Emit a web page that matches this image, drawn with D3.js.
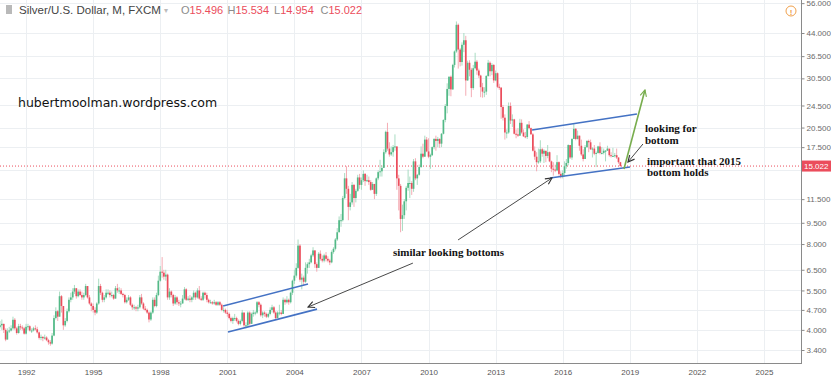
<!DOCTYPE html>
<html>
<head>
<meta charset="utf-8">
<script src="https://cdn.jsdelivr.net/npm/d3@7"></script>
<style>
  html, body { margin: 0; padding: 0; background: #fff; }
  svg { display: block; }
</style>
</head>
<body>
<svg id="chart"></svg>
<script>
// Silver/USD monthly candles, Nov 1990 .. Aug 2018 (open = previous close)
const firstMonth = [1990, 10];
const firstOpen = 4.10;

const closes = [
  [4.15, 4.20],
  [4.00, 3.70, 3.95, 3.98, 4.05, 4.34, 4.05, 3.90, 4.12, 4.08, 4.05, 3.88],
  [4.10, 4.12, 3.98, 3.98, 4.05, 4.02, 3.92, 3.75, 3.78, 3.74, 3.76, 3.68],
  [3.62, 3.58, 3.82, 4.40, 4.65, 4.45, 5.25, 4.85, 4.15, 4.30, 4.65, 5.10],
  [5.20, 5.45, 5.60, 5.25, 5.45, 5.30, 5.20, 5.30, 5.70, 5.20, 4.95, 4.85],
  [4.70, 4.60, 4.95, 5.70, 5.40, 5.10, 5.20, 5.40, 5.40, 5.30, 5.30, 5.15],
  [5.60, 5.50, 5.50, 5.35, 5.30, 5.00, 5.10, 5.20, 4.90, 4.80, 4.80, 4.75],
  [4.80, 5.20, 4.95, 4.75, 4.70, 4.60, 4.35, 4.60, 5.10, 4.85, 5.30, 5.95],
  [6.40, 6.35, 6.15, 6.25, 5.20, 5.45, 5.30, 4.95, 5.20, 5.00, 4.95, 4.95],
  [5.15, 5.55, 5.10, 5.15, 5.10, 5.20, 5.40, 5.20, 5.50, 5.15, 5.10, 5.40],
  [5.30, 5.10, 5.00, 5.00, 4.95, 5.00, 4.90, 5.00, 4.90, 4.70, 4.70, 4.60],
  [4.55, 4.40, 4.30, 4.40, 4.40, 4.30, 4.20, 4.30, 4.60, 4.15, 4.15, 4.60],
  [4.20, 4.55, 4.60, 4.60, 5.00, 4.90, 4.50, 4.60, 4.55, 4.45, 4.55, 4.70],
  [4.80, 4.60, 4.40, 4.60, 4.60, 4.55, 5.10, 5.00, 5.10, 5.00, 5.40, 5.95],
  [6.20, 6.60, 7.90, 6.00, 6.10, 5.90, 6.60, 6.80, 6.90, 7.30, 7.60, 6.80],
  [6.60, 7.40, 7.10, 7.00, 7.30, 7.10, 7.00, 6.90, 7.50, 7.70, 8.30, 8.80],
  [9.70, 9.70, 11.60, 13.60, 12.50, 10.80, 11.20, 12.90, 11.60, 12.30, 13.70, 12.90],
  [13.40, 14.10, 13.30, 13.40, 13.20, 12.40, 13.00, 12.00, 13.60, 14.30, 14.40, 14.80],
  [16.80, 19.80, 17.30, 16.50, 16.80, 17.50, 17.60, 13.60, 12.80, 9.80, 10.10, 11.30],
  [12.60, 13.10, 13.10, 12.50, 15.60, 13.60, 14.00, 14.90, 16.60, 16.20, 18.60, 16.90],
  [16.20, 16.40, 17.50, 18.70, 18.40, 18.70, 18.00, 19.50, 21.80, 24.40, 28.00, 30.90],
  [27.90, 34.00, 37.90, 47.00, 38.50, 34.80, 40.00, 41.50, 30.00, 34.60, 32.70, 28.20],
  [33.10, 34.90, 32.50, 31.20, 28.40, 27.40, 27.40, 31.10, 34.60, 32.30, 34.00, 30.00],
  [31.80, 28.50, 28.30, 24.20, 22.20, 19.70, 19.70, 24.40, 21.70, 21.90, 19.50, 19.40],
  [19.20, 21.30, 19.70, 19.10, 19.00, 21.00, 20.40, 19.40, 17.00, 16.20, 15.50, 15.60],
  [17.20, 16.60, 17.00, 16.30, 16.80, 15.60, 14.70, 14.60, 14.50, 15.50, 14.10, 13.80],
  [14.20, 15.00, 15.40, 17.80, 16.10, 18.70, 20.30, 18.70, 19.20, 17.70, 16.50, 15.90],
  [17.50, 18.40, 18.20, 17.20, 17.30, 16.60, 16.70, 17.60, 16.70, 16.70, 17.00, 17.00],
  [17.30, 16.40, 16.30, 16.30, 16.40, 16.10, 15.496, 15.022]
].flat();

const highs = [
  [4.30, 4.35],
  [4.20, 4.05, 4.05, 4.10, 4.15, 4.45, 4.40, 4.10, 4.20, 4.20, 4.15, 4.10],
  [4.20, 4.20, 4.15, 4.05, 4.10, 4.15, 4.10, 3.95, 3.85, 3.80, 3.85, 3.80],
  [3.72, 3.68, 3.90, 4.50, 4.80, 4.70, 5.45, 5.30, 4.85, 4.40, 4.75, 5.20],
  [5.40, 5.60, 5.75, 5.60, 5.55, 5.55, 5.45, 5.40, 5.80, 5.70, 5.30, 5.00],
  [4.95, 4.80, 5.00, 6.05, 5.80, 5.45, 5.30, 5.55, 5.55, 5.50, 5.45, 5.35],
  [5.70, 5.80, 5.65, 5.60, 5.40, 5.35, 5.20, 5.30, 5.25, 4.95, 4.90, 4.85],
  [4.90, 5.30, 5.35, 5.00, 4.85, 4.75, 4.65, 4.65, 5.20, 5.20, 5.40, 6.20],
  [6.70, 7.20, 6.50, 6.50, 6.30, 5.60, 5.50, 5.35, 5.30, 5.25, 5.10, 5.05],
  [5.30, 5.65, 5.60, 5.25, 5.30, 5.25, 5.50, 5.45, 5.60, 5.70, 5.25, 5.45],
  [5.45, 5.40, 5.15, 5.10, 5.05, 5.10, 5.05, 5.05, 5.05, 4.95, 4.80, 4.75],
  [4.70, 4.60, 4.45, 4.45, 4.55, 4.45, 4.35, 4.35, 4.70, 4.60, 4.25, 4.65],
  [4.65, 4.60, 4.70, 4.65, 5.05, 5.05, 4.95, 4.65, 4.65, 4.60, 4.60, 4.80],
  [4.90, 4.85, 4.65, 4.65, 4.90, 4.70, 5.20, 5.15, 5.25, 5.15, 5.45, 6.00],
  [6.50, 6.85, 8.30, 8.00, 6.30, 6.20, 6.90, 6.90, 7.10, 7.40, 7.80, 7.60],
  [6.90, 7.50, 7.60, 7.30, 7.40, 7.50, 7.25, 7.10, 7.60, 7.80, 8.40, 9.10],
  [10.00, 10.20, 11.80, 14.20, 15.00, 12.80, 12.00, 13.20, 13.00, 12.50, 14.00, 14.10],
  [13.70, 14.50, 14.20, 14.00, 13.80, 13.40, 13.20, 13.00, 13.70, 14.50, 15.80, 15.10],
  [17.20, 20.00, 21.30, 18.20, 17.60, 17.80, 19.40, 17.60, 14.00, 13.00, 11.00, 11.50],
  [12.80, 14.60, 13.80, 13.30, 15.90, 16.00, 14.10, 15.20, 17.60, 18.00, 19.20, 19.00],
  [18.80, 16.60, 17.60, 18.80, 19.20, 19.00, 18.80, 19.60, 21.90, 24.80, 29.30, 31.00],
  [31.20, 34.30, 38.20, 48.30, 47.50, 39.00, 40.80, 44.00, 43.00, 35.20, 35.30, 33.20],
  [34.00, 37.50, 35.40, 33.00, 31.40, 29.40, 28.40, 31.30, 35.40, 35.00, 34.50, 34.20],
  [32.50, 32.00, 29.20, 28.40, 24.60, 22.80, 20.20, 25.10, 25.10, 22.80, 22.00, 20.20],
  [20.40, 22.00, 21.90, 20.20, 19.80, 21.10, 21.60, 20.50, 19.60, 17.60, 16.80, 17.30],
  [18.50, 17.40, 17.20, 16.90, 17.80, 16.90, 15.70, 15.50, 15.20, 16.40, 15.60, 14.40],
  [14.50, 15.60, 15.90, 17.90, 17.70, 18.80, 21.10, 20.40, 20.00, 19.20, 18.60, 17.20],
  [17.80, 18.50, 18.60, 18.60, 17.50, 17.80, 16.90, 17.70, 18.20, 17.50, 17.30, 17.10],
  [17.70, 17.20, 16.80, 17.40, 16.70, 17.30, 16.10, 15.534]
].flat();

const lows = [
  [4.05, 4.00],
  [3.90, 3.65, 3.70, 3.90, 3.95, 4.00, 4.00, 3.85, 3.88, 4.00, 3.98, 3.85],
  [3.85, 4.00, 3.95, 3.90, 3.95, 3.98, 3.88, 3.70, 3.68, 3.65, 3.70, 3.65],
  [3.55, 3.52, 3.55, 3.80, 4.35, 4.30, 4.45, 4.60, 4.00, 4.10, 4.25, 4.60],
  [5.00, 5.10, 5.35, 5.15, 5.20, 5.25, 5.10, 5.10, 5.25, 5.15, 4.90, 4.65],
  [4.60, 4.50, 4.55, 4.90, 5.30, 5.00, 5.00, 5.15, 5.30, 5.20, 5.20, 5.10],
  [5.15, 5.40, 5.35, 5.30, 5.20, 4.95, 4.95, 5.05, 4.85, 4.70, 4.70, 4.65],
  [4.65, 4.75, 4.90, 4.70, 4.65, 4.55, 4.25, 4.30, 4.55, 4.80, 4.80, 5.25],
  [5.90, 6.10, 6.00, 5.95, 5.10, 5.10, 5.20, 4.85, 4.90, 4.90, 4.85, 4.80],
  [4.95, 5.10, 5.05, 5.05, 5.00, 5.00, 5.10, 5.10, 5.15, 5.10, 5.05, 5.05],
  [5.15, 5.00, 4.95, 4.95, 4.90, 4.90, 4.85, 4.85, 4.85, 4.65, 4.60, 4.55],
  [4.45, 4.35, 4.25, 4.20, 4.30, 4.25, 4.15, 4.15, 4.25, 4.10, 4.05, 4.10],
  [4.15, 4.20, 4.45, 4.50, 4.55, 4.80, 4.45, 4.40, 4.45, 4.40, 4.40, 4.50],
  [4.60, 4.55, 4.35, 4.40, 4.50, 4.50, 4.55, 4.90, 4.95, 4.90, 4.95, 5.30],
  [5.80, 6.10, 6.55, 5.90, 5.55, 5.70, 5.85, 6.30, 6.60, 6.85, 7.20, 6.60],
  [6.40, 6.60, 7.00, 6.90, 6.90, 6.95, 6.90, 6.75, 6.85, 7.40, 7.60, 8.20],
  [8.80, 9.20, 9.60, 11.50, 12.00, 9.70, 10.50, 11.00, 10.80, 11.20, 12.20, 12.50],
  [12.40, 13.20, 12.80, 13.20, 12.90, 12.30, 12.40, 11.50, 11.80, 13.40, 13.80, 13.80],
  [14.80, 16.60, 17.00, 16.20, 16.30, 16.20, 17.00, 12.40, 10.50, 8.80, 8.90, 9.80],
  [10.50, 12.30, 11.60, 11.90, 12.20, 13.40, 12.90, 13.90, 14.80, 16.00, 16.20, 16.80],
  [16.00, 14.70, 16.30, 17.20, 17.00, 17.50, 17.40, 17.50, 19.40, 21.40, 23.00, 26.50],
  [26.40, 27.80, 33.30, 37.50, 33.00, 33.60, 33.80, 37.70, 26.50, 29.90, 31.00, 26.20],
  [27.80, 32.80, 31.40, 30.60, 26.20, 26.10, 26.20, 26.70, 30.90, 31.00, 31.30, 29.40],
  [29.80, 28.20, 27.80, 22.00, 21.70, 18.60, 18.80, 19.50, 21.10, 20.60, 19.40, 18.80],
  [19.00, 19.20, 19.50, 19.00, 18.80, 18.70, 20.20, 19.40, 16.90, 15.80, 14.40, 15.30],
  [15.40, 16.20, 15.40, 15.50, 16.00, 15.50, 14.30, 13.90, 14.30, 14.40, 13.90, 13.60],
  [13.60, 13.80, 14.70, 15.10, 15.90, 15.80, 18.70, 18.50, 18.60, 17.00, 16.30, 15.60],
  [15.90, 17.40, 16.80, 17.10, 16.10, 16.40, 14.90, 16.60, 16.50, 16.50, 16.50, 15.60],
  [17.00, 16.20, 16.10, 16.20, 16.10, 15.90, 15.30, 14.954]
].flat();

const priceTicks = [3.4, 4.0, 4.7, 5.5, 6.5, 8.0, 9.5, 11.5, 17.5, 20.5, 24.5, 30.5, 36.5, 44, 56];
const yearTicks = [1992, 1995, 1998, 2001, 2004, 2007, 2010, 2013, 2016, 2019, 2022, 2025];
const lastPrice = 15.022;
const header = { title: 'Silver/U.S. Dollar, M, FXCM', ohlc: [['O', '15.496'], ['H', '15.534'], ['L', '14.954'], ['C', '15.022']] };

// Hand-drawn annotations, in [decimal year, price]
const channels = [
  [[2000.81, 4.85], [2004.61, 5.79]],
  [[2001.03, 3.93], [2005.01, 4.73]],
  [[2014.63, 20.1], [2019.32, 22.87]],
  [[2015.43, 13.64], [2019.01, 14.91]]
];
const pointers = [
  { from: [2009.30, 6.86], to: [2004.61, 4.81], kind: 'black' },
  { from: [2011.32, 8.27], to: [2015.52, 13.64], kind: 'black' },
  { from: [2019.59, 17.95], to: [2018.92, 15.52], kind: 'black' },
  { from: [2018.74, 14.67], to: [2019.68, 27.77], kind: 'green' }
];
const notes = [
  { text: 'similar looking bottoms', x: 393, y: 256 },
  { text: 'looking for', x: 645, y: 132 },
  { text: 'bottom', x: 645, y: 144 },
  { text: 'important that 2015', x: 647, y: 165 },
  { text: 'bottom holds', x: 647, y: 176 }
];

const W = 831, H = 378;
const plotRight = 801, plotBottom = 363;
const UP = '#53b987', DOWN = '#eb4d5c';
const axisFont = '"Liberation Sans", Arial, sans-serif';

const candles = closes.map((c, i) => ({
  date: new Date(firstMonth[0], firstMonth[1] + i, 1),
  open: i === 0 ? firstOpen : closes[i - 1],
  high: highs[i],
  low: lows[i],
  close: c
}));

const yearDate = t => {
  const yr = Math.floor(t);
  return new Date(yr, 0, 1 + Math.round((t - yr) * 365));
};

const x = d3.scaleTime()
  .domain([new Date(1990, 10, 1), new Date(2026, 7, 13)])
  .range([0, 800]);

const y = d3.scaleLog()
  .domain([3.4, 44])
  .range([350, 33]);

const svg = d3.select('#chart')
  .attr('width', W)
  .attr('height', H)
  .attr('viewBox', `0 0 ${W} ${H}`);

svg.append('rect').attr('width', W).attr('height', H).attr('fill', '#fff');

const defs = svg.append('defs');
defs.append('clipPath').attr('id', 'plot-clip')
  .append('rect').attr('x', 0).attr('y', 0).attr('width', plotRight).attr('height', plotBottom);

[['black', '#333'], ['green', '#78ad4e']].forEach(([k, col]) => {
  defs.append('marker')
    .attr('id', `head-${k}`)
    .attr('viewBox', '0 0 10 10')
    .attr('refX', 9).attr('refY', 5)
    .attr('markerWidth', 8).attr('markerHeight', 8)
    .attr('markerUnits', 'userSpaceOnUse')
    .attr('orient', 'auto')
    .append('path')
    .attr('d', 'M1,1 L9,5 L1,9')
    .attr('fill', 'none')
    .attr('stroke', col)
    .attr('stroke-width', 1.4);
});

// Grid (14.5 has a line but its label sits under the last-price tag)
const grid = svg.append('g');
grid.selectAll('line.h').data(priceTicks.concat([14.5])).join('line')
  .attr('x1', 0).attr('x2', plotRight)
  .attr('y1', d => Math.round(y(d)) + 0.5).attr('y2', d => Math.round(y(d)) + 0.5)
  .attr('stroke', '#eceff2');
grid.selectAll('line.v').data(yearTicks).join('line')
  .attr('y1', 0).attr('y2', plotBottom)
  .attr('x1', d => Math.round(x(new Date(d, 0, 1))) + 0.5)
  .attr('x2', d => Math.round(x(new Date(d, 0, 1))) + 0.5)
  .attr('stroke', '#eceff2');

// Watermark
svg.append('text')
  .attr('x', 18).attr('y', 107)
  .attr('font-family', '"DejaVu Sans", Verdana, sans-serif')
  .attr('font-size', '12.5px')
  .attr('fill', '#111')
  .text('hubertmoolman.wordpress.com');

// Candles
const plot = svg.append('g').attr('clip-path', 'url(#plot-clip)');

plot.append('line')
  .attr('x1', 0).attr('x2', plotRight)
  .attr('y1', y(lastPrice)).attr('y2', y(lastPrice))
  .attr('stroke', DOWN)
  .attr('stroke-dasharray', '1 2');

const cg = plot.selectAll('g.candle').data(candles).join('g');
cg.append('line')
  .attr('x1', d => x(d.date)).attr('x2', d => x(d.date))
  .attr('y1', d => y(d.high)).attr('y2', d => y(d.low))
  .attr('stroke', d => d.close >= d.open ? '#9fd8bb' : '#f3a3ab')
  .attr('stroke-width', 0.9);
cg.append('rect')
  .attr('x', d => x(d.date) - 0.85)
  .attr('width', 1.7)
  .attr('y', d => Math.min(y(d.open), y(d.close)))
  .attr('height', d => Math.max(1, Math.abs(y(d.open) - y(d.close))))
  .attr('fill', d => d.close >= d.open ? UP : DOWN);

// Annotations
const ann = svg.append('g').attr('clip-path', 'url(#plot-clip)');
ann.selectAll('line.ch').data(channels).join('line')
  .attr('x1', d => x(yearDate(d[0][0]))).attr('y1', d => y(d[0][1]))
  .attr('x2', d => x(yearDate(d[1][0]))).attr('y2', d => y(d[1][1]))
  .attr('stroke', '#4472c4')
  .attr('stroke-width', 1.6);

ann.selectAll('line.ptr').data(pointers).join('line')
  .attr('x1', d => x(yearDate(d.from[0]))).attr('y1', d => y(d.from[1]))
  .attr('x2', d => x(yearDate(d.to[0]))).attr('y2', d => y(d.to[1]))
  .attr('stroke', d => d.kind === 'green' ? '#78ad4e' : '#333')
  .attr('stroke-width', d => d.kind === 'green' ? 1.6 : 0.9)
  .attr('marker-end', d => `url(#head-${d.kind})`);

svg.selectAll('text.note').data(notes).join('text')
  .attr('x', d => d.x).attr('y', d => d.y)
  .attr('font-family', '"Liberation Serif", "Times New Roman", serif')
  .attr('font-weight', 'bold')
  .attr('font-size', '11px')
  .attr('fill', '#111')
  .text(d => d.text);

// Right price axis
const yAxis = svg.append('g')
  .attr('transform', `translate(${plotRight + 0.5},0)`)
  .call(d3.axisRight(y).tickValues(priceTicks).tickFormat(d3.format('.3f')).tickSize(3).tickPadding(2));
yAxis.select('.domain').remove();
yAxis.selectAll('line').attr('stroke', '#8a8a8a');
yAxis.selectAll('text').attr('fill', '#6a6a6a').attr('font-size', '8px').attr('font-family', axisFont);

// Bottom time axis
const xAxis = svg.append('g')
  .attr('transform', `translate(0,${plotBottom + 0.5})`)
  .call(d3.axisBottom(x).tickValues(yearTicks.map(d => new Date(d, 0, 1))).tickFormat(d3.timeFormat('%Y')).tickSize(0).tickPadding(6));
xAxis.select('.domain').remove();
xAxis.selectAll('text').attr('fill', '#555').attr('font-size', '8px').attr('font-family', axisFont);

svg.append('line')
  .attr('x1', plotRight + 0.5).attr('x2', plotRight + 0.5)
  .attr('y1', 0).attr('y2', plotBottom + 1)
  .attr('stroke', '#8a8a8a');
svg.append('line')
  .attr('x1', 0).attr('x2', plotRight + 1)
  .attr('y1', plotBottom + 0.5).attr('y2', plotBottom + 0.5)
  .attr('stroke', '#8a8a8a');

// Last price label
svg.append('rect')
  .attr('x', plotRight + 1).attr('y', y(lastPrice) - 5.5)
  .attr('width', W - plotRight - 1).attr('height', 11)
  .attr('fill', DOWN);
svg.append('text')
  .attr('x', plotRight + 3).attr('y', y(lastPrice) + 3)
  .attr('font-family', axisFont).attr('font-size', '8px')
  .attr('fill', '#fff')
  .text(d3.format('.3f')(lastPrice));

// Header
svg.append('rect').attr('x', 6).attr('y', 5).attr('width', 6).attr('height', 9).attr('fill', '#b9b9b9');
svg.append('text')
  .attr('x', 19).attr('y', 14)
  .attr('font-family', axisFont).attr('font-size', '11.5px')
  .attr('fill', '#444')
  .text(header.title);
svg.append('text')
  .attr('x', 164).attr('y', 13)
  .attr('font-family', axisFont).attr('font-size', '8px')
  .attr('fill', '#bbb')
  .text('▾');
const ohlc = svg.append('text')
  .attr('y', 14)
  .attr('font-family', axisFont).attr('font-size', '11px');
header.ohlc.forEach(([k, v], i) => {
  ohlc.append('tspan').attr('x', 181 + i * 46.5).attr('fill', '#8c8c8c').text(k);
  ohlc.append('tspan').attr('fill', DOWN).text(v);
});

// Alert icon
svg.append('circle')
  .attr('cx', 791).attr('cy', 11).attr('r', 5)
  .attr('fill', 'none').attr('stroke', '#f0a04b').attr('stroke-width', 1);
svg.append('text')
  .attr('x', 791).attr('y', 14.5)
  .attr('text-anchor', 'middle')
  .attr('font-family', axisFont).attr('font-size', '8px').attr('font-weight', 'bold')
  .attr('fill', '#f0a04b')
  .text('!');
</script>
</body>
</html>
